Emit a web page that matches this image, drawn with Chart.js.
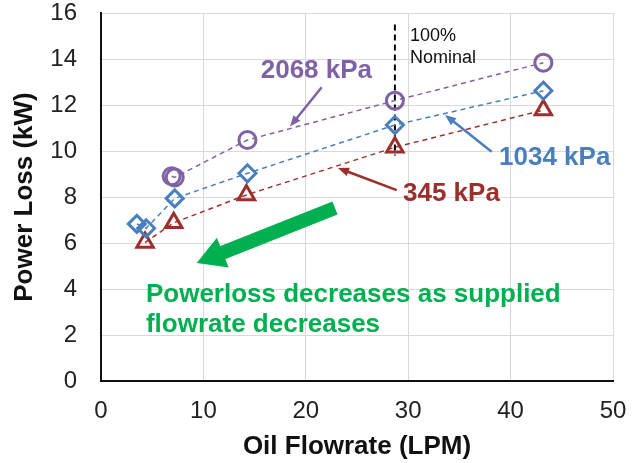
<!DOCTYPE html>
<html><head><meta charset="utf-8">
<script src="https://cdn.jsdelivr.net/npm/chart.js@4.4.1/dist/chart.umd.min.js"></script>
<style>html,body{margin:0;padding:0;background:#fff}canvas{display:block}</style>
</head><body>
<canvas id="c" width="643" height="463"></canvas>
<script>
// ---- data ----
const flow2068  = [6.9, 7.2, 14.3, 28.7, 43.2];
const power2068 = [8.9, 8.85, 10.48, 12.19, 13.84];
const flow1034  = [3.5, 4.4, 7.2, 14.3, 28.7, 43.2];
const power1034 = [6.83, 6.64, 7.94, 9.03, 11.13, 12.62];
const flow345   = [4.3, 7.1, 14.2, 28.7, 43.2];
const power345  = [6.02, 6.88, 8.09, 10.16, 11.78];
const nominalFlow  = [28.7, 28.7];
const nominalPower = [15.5, 9.8];
const xTicks = [0, 10, 20, 30, 40, 50];
const yTicks = [0, 2, 4, 6, 8, 10, 12, 14, 16];
const seriesNames = ['2068 kPa', '1034 kPa', '345 kPa'];

// ---- styles ----
const PURPLE = '#7f62a6', BLUE = '#4a7fbf', RED = '#9c2f2c', GREEN = '#00b050';
const FONT = '"Liberation Sans", Arial, sans-serif';

const pts = (xs, ys) => xs.map((v, i) => ({x: v, y: ys[i]}));

// annotation placement (data units)
const notes = [
  {text: seriesNames[0], x: 15.6, y: 13.17, color: PURPLE, font: 'bold 26px ' + FONT},
  {text: seriesNames[1], x: 38.87, y: 9.39, color: BLUE, font: 'bold 26px ' + FONT},
  {text: seriesNames[2], x: 29.49, y: 7.83, color: RED, font: 'bold 26px ' + FONT},
  {text: 'Powerloss decreases as supplied', x: 4.39, y: 3.43, color: GREEN, font: 'bold 26px ' + FONT},
  {text: 'flowrate decreases', x: 4.39, y: 2.13, color: GREEN, font: 'bold 26px ' + FONT},
  {text: '100%', x: 30.18, y: 14.78, color: '#111', font: '18px ' + FONT},
  {text: 'Nominal', x: 30.18, y: 13.83, color: '#111', font: '18px ' + FONT}
];
const arrows = [
  {from: [21.55, 12.77], to: [18.46, 11.06], color: PURPLE, w: 2.5, hw: 9, hl: 11},
  {from: [38.15, 9.97], to: [33.6, 11.57], color: BLUE, w: 2.5, hw: 9, hl: 11},
  {from: [28.88, 8.3], to: [23.14, 9.26], color: RED, w: 2.5, hw: 9, hl: 11},
  {from: [22.85, 7.52], to: [9.35, 5.13], color: GREEN, w: 14, hw: 32, hl: 28}
];

const annoPlugin = {
  id: 'anno',
  afterDatasetsDraw(chart) {
    const {ctx, scales: {x, y}} = chart;
    const X = v => x.getPixelForValue(v), Y = v => y.getPixelForValue(v);
    ctx.save();
    for (const a of arrows) {
      const x1 = X(a.from[0]), y1 = Y(a.from[1]), x2 = X(a.to[0]), y2 = Y(a.to[1]);
      const ang = Math.atan2(y2 - y1, x2 - x1);
      const bx = x2 - Math.cos(ang) * a.hl, by = y2 - Math.sin(ang) * a.hl;
      ctx.strokeStyle = a.color; ctx.fillStyle = a.color;
      ctx.lineWidth = a.w; ctx.lineCap = 'butt';
      ctx.beginPath(); ctx.moveTo(x1, y1); ctx.lineTo(bx + Math.cos(ang), by + Math.sin(ang)); ctx.stroke();
      const nx = -Math.sin(ang), ny = Math.cos(ang);
      ctx.beginPath();
      ctx.moveTo(x2, y2);
      ctx.lineTo(bx + nx * a.hw / 2, by + ny * a.hw / 2);
      ctx.lineTo(bx - nx * a.hw / 2, by - ny * a.hw / 2);
      ctx.closePath(); ctx.fill();
    }
    ctx.textAlign = 'left'; ctx.textBaseline = 'alphabetic';
    for (const t of notes) {
      ctx.font = t.font; ctx.fillStyle = t.color;
      ctx.fillText(t.text, X(t.x), Y(t.y));
    }
    ctx.restore();
  }
};

const lineStyle = (color) => ({
  borderColor: color, borderWidth: 1.5, borderDash: [5, 4], showLine: true, fill: false,
  pointBorderColor: color, pointBackgroundColor: 'rgba(255,255,255,0)', pointBorderWidth: 3,
  tension: 0
});

new Chart(document.getElementById('c'), {
  type: 'scatter',
  data: {
    datasets: [
      Object.assign({label: seriesNames[0], data: pts(flow2068, power2068), pointStyle: 'circle', pointRadius: 8.5}, lineStyle(PURPLE)),
      Object.assign({label: seriesNames[1], data: pts(flow1034, power1034), pointStyle: 'rectRot', pointRadius: 8.5}, lineStyle(BLUE)),
      Object.assign({label: seriesNames[2], data: pts(flow345, power345), pointStyle: 'triangle', pointRadius: 9.5}, lineStyle(RED)),
      {label: 'Nominal', data: pts(nominalFlow, nominalPower), showLine: true, borderColor: '#000',
       borderWidth: 2, borderDash: [6, 4], pointRadius: 0, fill: false}
    ]
  },
  options: {
    responsive: false, animation: false,
    layout: {padding: {top: 13, right: 30, left: 0, bottom: 0}},
    plugins: {legend: {display: false}, tooltip: {enabled: false}},
    scales: {
      x: {
        type: 'linear', min: 0, max: 50,
        afterBuildTicks: s => { s.ticks = xTicks.map(v => ({value: v})); },
        afterFit: s => { s.height = 82; s.paddingLeft = 0; s.paddingRight = 0; s.paddingTop = 0; s.paddingBottom = 0; },
        grid: {color: '#d9d9d9', lineWidth: 1, drawTicks: false},
        border: {color: '#111', width: 2},
        ticks: {color: '#222', font: {family: FONT, size: 24, lineHeight: 1.2}, padding: 16, maxRotation: 0},
        title: {display: true, text: 'Oil Flowrate (LPM)', color: '#111',
                font: {family: FONT, size: 26, weight: 'bold'}, padding: {top: 0, bottom: 1}}
      },
      y: {
        type: 'linear', min: 0, max: 16,
        afterBuildTicks: s => { s.ticks = yTicks.map(v => ({value: v})); },
        afterFit: s => { s.width = 101; s.paddingTop = 0; s.paddingBottom = 0; s.paddingLeft = 0; s.paddingRight = 0; },
        grid: {color: '#d9d9d9', lineWidth: 1, drawTicks: false},
        border: {color: '#111', width: 2},
        ticks: {color: '#222', font: {family: FONT, size: 24, lineHeight: 1.0}, padding: 24},
        title: {display: true, text: 'Power Loss (kW)', color: '#111',
                font: {family: FONT, size: 26, weight: 'bold'}, padding: {top: 9, bottom: 0}}
      }
    }
  },
  plugins: [annoPlugin]
});
</script>
</body></html>
